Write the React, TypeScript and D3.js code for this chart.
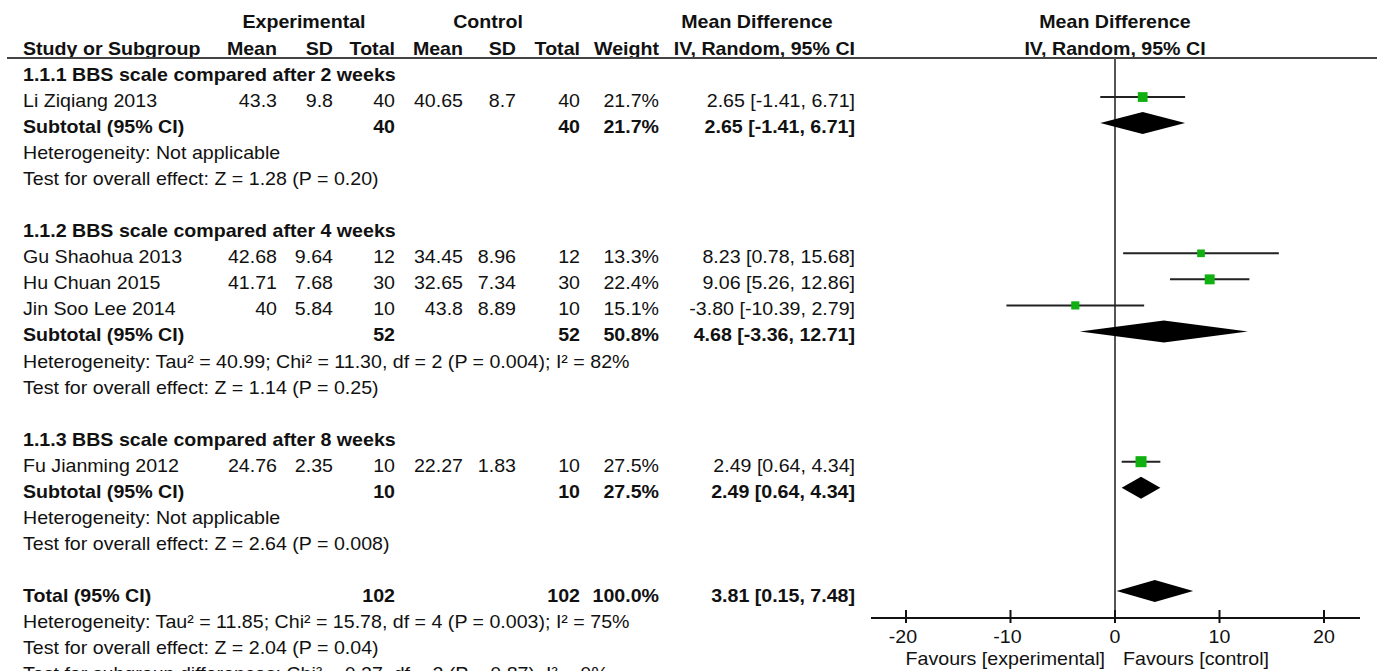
import React from 'react';
import * as d3 from 'd3';

// studies, in display order
const studyNames = ['Li Ziqiang 2013', 'Gu Shaohua 2013', 'Hu Chuan 2015', 'Jin Soo Lee 2014', 'Fu Jianming 2012'];
const expMean = [43.3, 42.68, 41.71, 40, 24.76];
const expSD = [9.8, 9.64, 7.68, 5.84, 2.35];
const expTotal = [40, 12, 30, 10, 10];
const ctlMean = [40.65, 34.45, 32.65, 43.8, 22.27];
const ctlSD = [8.7, 8.96, 7.34, 8.89, 1.83];
const ctlTotal = [40, 12, 30, 10, 10];
const weights = [21.7, 13.3, 22.4, 15.1, 27.5];
const md = [2.65, 8.23, 9.06, -3.8, 2.49];
const ciLow = [-1.41, 0.78, 5.26, -10.39, 0.64];
const ciHigh = [6.71, 15.68, 12.86, 2.79, 4.34];

// subgroups
const subgroupTitles = [
  '1.1.1 BBS scale compared after 2 weeks',
  '1.1.2 BBS scale compared after 4 weeks',
  '1.1.3 BBS scale compared after 8 weeks',
];
const subgroupSizes = [1, 3, 1];
const subExpTotal = [40, 52, 10];
const subCtlTotal = [40, 52, 10];
const subWeight = [21.7, 50.8, 27.5];
const subMd = [2.65, 4.68, 2.49];
const subLow = [-1.41, -3.36, 0.64];
const subHigh = [6.71, 12.71, 4.34];
const subHet = [
  'Heterogeneity: Not applicable',
  'Heterogeneity: Tau² = 40.99; Chi² = 11.30, df = 2 (P = 0.004); I² = 82%',
  'Heterogeneity: Not applicable',
];
const subTest = [
  'Test for overall effect: Z = 1.28 (P = 0.20)',
  'Test for overall effect: Z = 1.14 (P = 0.25)',
  'Test for overall effect: Z = 2.64 (P = 0.008)',
];

// overall
const totalExp = 102;
const totalCtl = 102;
const totalWeight = 100;
const totalMd = 3.81;
const totalLow = 0.15;
const totalHigh = 7.48;
const totalHet = 'Heterogeneity: Tau² = 11.85; Chi² = 15.78, df = 4 (P = 0.003); I² = 75%';
const totalTest = 'Test for overall effect: Z = 2.04 (P = 0.04)';
const subgroupDiff = 'Test for subgroup differences: Chi² = 0.27, df = 2 (P = 0.87), I² = 0%';

const axisTicks = [-20, -10, 0, 10, 20];

const FONT = '"Liberation Sans", Arial, sans-serif';
const SX = 1.09;

const col = { expMean: 277, expSD: 333, expTotal: 395, ctlMean: 463, ctlSD: 516, ctlTotal: 580, weight: 659, ci: 855 };

const T = ({ x, y, anchor = 'start', bold = false, children }: any) => (
  <text
    transform={`translate(${x},${y}) scale(${SX},1)`}
    textAnchor={anchor}
    fontWeight={bold ? 'bold' : 'normal'}
  >
    {children}
  </text>
);

const f2 = (v: number) => v.toFixed(2);
const ci = (m: number, lo: number, hi: number) => `${f2(m)} [${f2(lo)}, ${f2(hi)}]`;

export default function App() {
  const x = d3.scaleLinear().domain([-20, 20]).range([906, 1324]);
  const axisY = 618;
  const rowY = d3.scaleLinear().domain([0, 22]).range([81, 654]);
  const side = d3.scaleSqrt().domain([0, 100]).range([0, 21]);
  const dh = 11;

  // build row list
  const rows: any[] = [];
  let s = 0;
  subgroupTitles.forEach((title, g) => {
    rows.push({ kind: 'title', g });
    for (let k = 0; k < subgroupSizes[g]; k++) rows.push({ kind: 'study', i: s++ });
    rows.push({ kind: 'sub', g });
    rows.push({ kind: 'het', text: subHet[g] });
    rows.push({ kind: 'het', text: subTest[g] });
    rows.push({ kind: 'blank' });
  });
  rows.push({ kind: 'total' });
  rows.push({ kind: 'het', text: totalHet });
  rows.push({ kind: 'het', text: totalTest });
  rows.push({ kind: 'het', text: subgroupDiff });

  const diamond = (m: number, lo: number, hi: number, y: number) =>
    `M${x(lo)},${y}L${x(m)},${y - dh}L${x(hi)},${y}L${x(m)},${y + dh}Z`;

  const xMin = x.invert(871);
  const xMax = x.invert(1360);

  return (
    <svg
      width={1382}
      height={671}
      style={{ position: 'absolute', left: 0, top: 0, display: 'block', background: '#fff' }}
      fontFamily={FONT}
      fontSize={18}
      fill="#111"
    >
      {/* header */}
      <T x={304} y={28} anchor="middle" bold>Experimental</T>
      <T x={488} y={28} anchor="middle" bold>Control</T>
      <T x={757} y={28} anchor="middle" bold>Mean Difference</T>
      <T x={x(0)} y={28} anchor="middle" bold>Mean Difference</T>
      <T x={23} y={55} bold>Study or Subgroup</T>
      <T x={col.expMean} y={55} anchor="end" bold>Mean</T>
      <T x={col.expSD} y={55} anchor="end" bold>SD</T>
      <T x={col.expTotal} y={55} anchor="end" bold>Total</T>
      <T x={col.ctlMean} y={55} anchor="end" bold>Mean</T>
      <T x={col.ctlSD} y={55} anchor="end" bold>SD</T>
      <T x={col.ctlTotal} y={55} anchor="end" bold>Total</T>
      <T x={col.weight} y={55} anchor="end" bold>Weight</T>
      <T x={col.ci} y={55} anchor="end" bold>IV, Random, 95% CI</T>
      <T x={x(0)} y={55} anchor="middle" bold>IV, Random, 95% CI</T>
      <line x1={7} x2={1377} y1={58} y2={58} stroke="#444" strokeWidth={2} />

      {/* zero line */}
      <line x1={x(0)} x2={x(0)} y1={58} y2={axisY} stroke="#555" strokeWidth={2} />

      {rows.map((r, idx) => {
        const y = rowY(idx);
        const my = y - 10;
        if (r.kind === 'title') return <T key={idx} x={23} y={y} bold>{subgroupTitles[r.g]}</T>;
        if (r.kind === 'het') return <T key={idx} x={23} y={y}>{r.text}</T>;
        if (r.kind === 'study') {
          const i = r.i;
          const w = side(weights[i]);
          return (
            <g key={idx}>
              <T x={23} y={y}>{studyNames[i]}</T>
              <T x={col.expMean} y={y} anchor="end">{String(expMean[i])}</T>
              <T x={col.expSD} y={y} anchor="end">{String(expSD[i])}</T>
              <T x={col.expTotal} y={y} anchor="end">{String(expTotal[i])}</T>
              <T x={col.ctlMean} y={y} anchor="end">{String(ctlMean[i])}</T>
              <T x={col.ctlSD} y={y} anchor="end">{String(ctlSD[i])}</T>
              <T x={col.ctlTotal} y={y} anchor="end">{String(ctlTotal[i])}</T>
              <T x={col.weight} y={y} anchor="end">{weights[i].toFixed(1) + '%'}</T>
              <T x={col.ci} y={y} anchor="end">{ci(md[i], ciLow[i], ciHigh[i])}</T>
              <line x1={x(ciLow[i])} x2={x(ciHigh[i])} y1={my} y2={my} stroke="#222" strokeWidth={2} />
              <rect x={x(md[i]) - w / 2} y={my - w / 2} width={w} height={w} fill="#10b010" />
            </g>
          );
        }
        if (r.kind === 'sub') {
          const g = r.g;
          return (
            <g key={idx}>
              <T x={23} y={y} bold>Subtotal (95% CI)</T>
              <T x={col.expTotal} y={y} anchor="end" bold>{String(subExpTotal[g])}</T>
              <T x={col.ctlTotal} y={y} anchor="end" bold>{String(subCtlTotal[g])}</T>
              <T x={col.weight} y={y} anchor="end" bold>{subWeight[g].toFixed(1) + '%'}</T>
              <T x={col.ci} y={y} anchor="end" bold>{ci(subMd[g], subLow[g], subHigh[g])}</T>
              <path d={diamond(subMd[g], subLow[g], subHigh[g], my)} fill="#000" />
            </g>
          );
        }
        if (r.kind === 'total') {
          return (
            <g key={idx}>
              <T x={23} y={y} bold>Total (95% CI)</T>
              <T x={col.expTotal} y={y} anchor="end" bold>{String(totalExp)}</T>
              <T x={col.ctlTotal} y={y} anchor="end" bold>{String(totalCtl)}</T>
              <T x={col.weight} y={y} anchor="end" bold>{totalWeight.toFixed(1) + '%'}</T>
              <T x={col.ci} y={y} anchor="end" bold>{ci(totalMd, totalLow, totalHigh)}</T>
              <path d={diamond(totalMd, totalLow, totalHigh, my - 1)} fill="#000" />
            </g>
          );
        }
        return null;
      })}

      {/* axis */}
      <line x1={x(xMin)} x2={x(xMax)} y1={axisY} y2={axisY} stroke="#111" strokeWidth={2} />
      {axisTicks.map((t) => (
        <g key={t}>
          <line x1={x(t)} x2={x(t)} y1={axisY - 8} y2={axisY + 5} stroke="#111" strokeWidth={2} />
          <T x={x(t) - (t < 0 ? 3 : 0)} y={643} anchor="middle">{String(t)}</T>
        </g>
      ))}
      <T x={x(0) - 10} y={665} anchor="end">Favours [experimental]</T>
      <T x={x(0) + 8} y={665}>Favours [control]</T>
    </svg>
  );
}
